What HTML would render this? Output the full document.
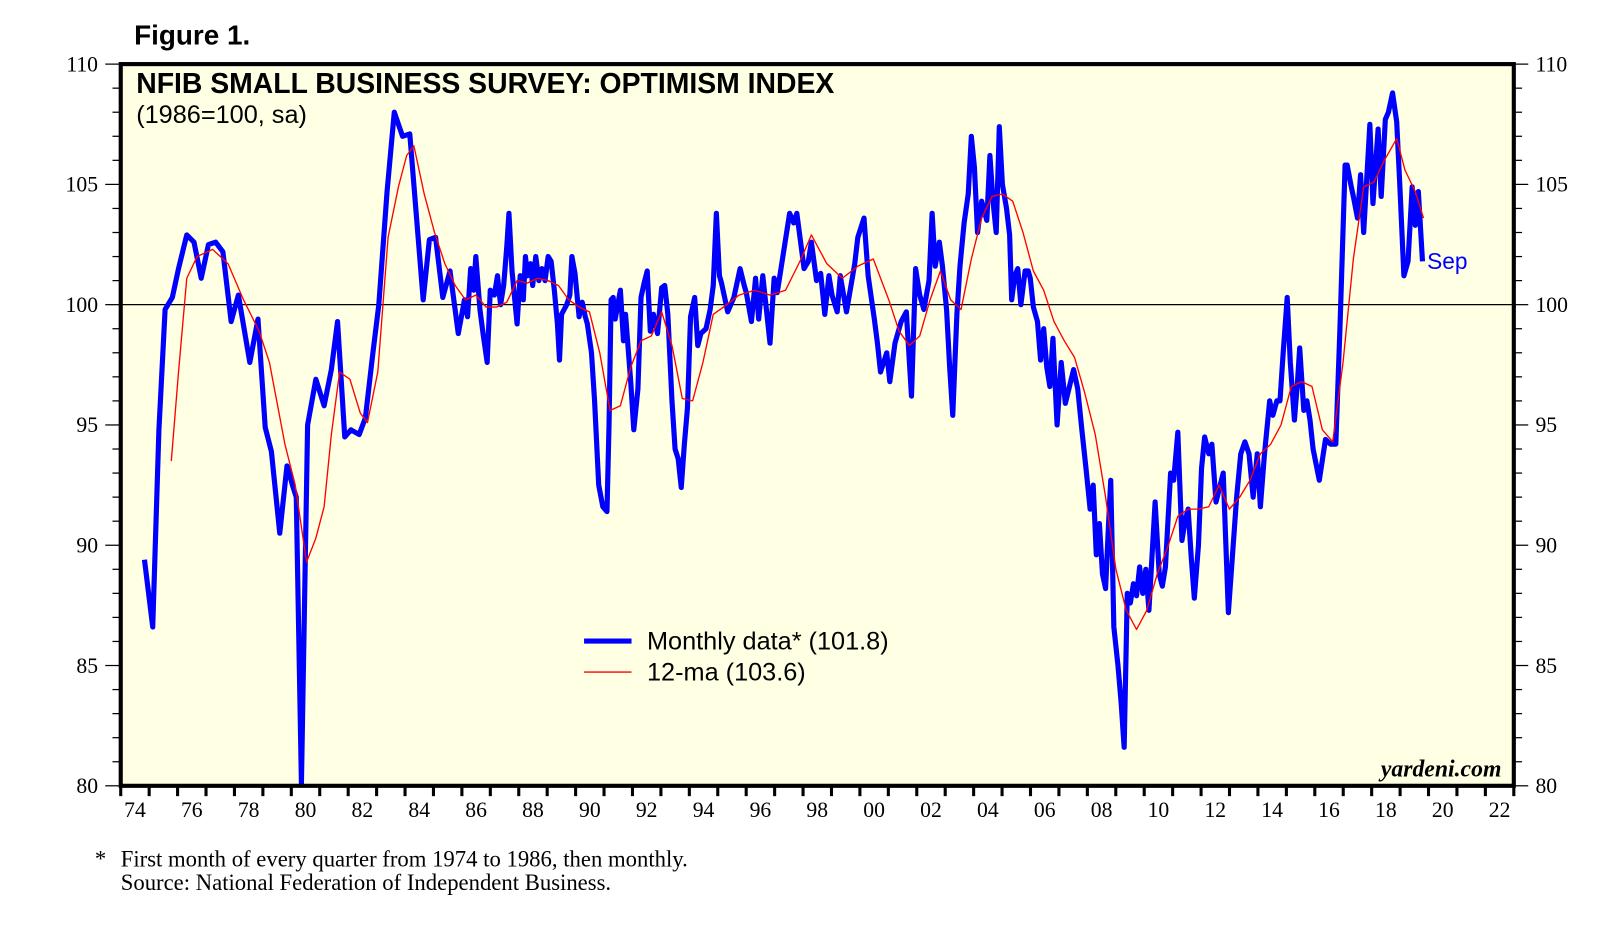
<!DOCTYPE html>
<html><head><meta charset="utf-8"><style>
html,body{margin:0;padding:0;background:#fff;}
svg{display:block;}
.ser{font-family:"Liberation Serif",serif;}
.san{font-family:"Liberation Sans",sans-serif;}
</style></head><body>
<svg id="chart" width="1617" height="944" viewBox="0 0 1567 913" preserveAspectRatio="none" xmlns="http://www.w3.org/2000/svg">
<text class="san" x="130" y="43" font-size="27" font-weight="bold">Figure 1.</text>
<rect x="117" y="62" width="1350" height="698" fill="#ffffe3"/>
<g id="grid"></g>
<g id="series"></g>
<rect x="117" y="62" width="1350" height="698" fill="none" stroke="#000" stroke-width="4"/>
<g id="axes"></g>
<text class="san" x="132" y="90" font-size="27.5" font-weight="bold">NFIB SMALL BUSINESS SURVEY: OPTIMISM INDEX</text>
<text class="san" x="132" y="119" font-size="24.5">(1986=100, sa)</text>
<line x1="566" y1="620" x2="612" y2="620" stroke="#0000ff" stroke-width="5"/>
<text class="san" x="627" y="628" font-size="24.5">Monthly data* (101.8)</text>
<line x1="566" y1="650" x2="612" y2="650" stroke="#ff0000" stroke-width="1.3"/>
<text class="san" x="627" y="658" font-size="24.5">12-ma (103.6)</text>
<text class="san" x="1383" y="260" font-size="22" fill="#0000ff">Sep</text>
<text class="ser" x="1455" y="751" font-size="23" font-weight="bold" font-style="italic" text-anchor="end">yardeni.com</text>
<text class="ser" x="92" y="838" font-size="22">*</text>
<text class="ser" x="117" y="838" font-size="22">First month of every quarter from 1974 to 1986, then monthly.</text>
<text class="ser" x="117" y="861" font-size="22">Source: National Federation of Independent Business.</text>
</svg>
<script>
const BASE_YEAR = 1974;
const yTicks = [80, 85, 90, 95, 100, 105, 110];
const xLabels = ["74","76","78","80","82","84","86","88","90","92","94","96","98","00","02","04","06","08","10","12","14","16","18","20","22"];
const monthlyT = [0.835,1.126,1.343,1.561,1.816,2.033,2.324,2.578,2.832,3.086,3.341,3.595,3.885,4.139,4.539,4.829,5.083,5.301,5.592,5.846,6.064,6.173,6.354,6.572,6.863,7.153,7.407,7.625,7.879,8.097,8.388,8.606,8.860,9.077,9.368,9.622,9.913,10.167,10.639,10.857,11.075,11.329,11.583,11.874,12.091,12.200,12.309,12.418,12.491,12.636,12.745,12.890,12.999,13.144,13.253,13.362,13.471,13.580,13.653,13.762,13.943,14.052,14.161,14.234,14.306,14.415,14.488,14.597,14.706,14.815,14.924,15.033,15.141,15.250,15.359,15.432,15.505,15.686,15.795,15.868,15.977,16.122,16.231,16.340,16.413,16.558,16.667,16.812,16.957,17.102,17.175,17.247,17.320,17.392,17.574,17.683,17.756,17.937,18.046,18.191,18.300,18.409,18.518,18.627,18.736,18.881,19.026,19.135,19.244,19.390,19.499,19.608,19.717,19.826,19.935,20.044,20.189,20.298,20.407,20.588,20.734,20.843,20.951,21.060,21.133,21.351,21.569,21.786,21.932,22.004,22.186,22.331,22.440,22.585,22.730,22.839,22.984,23.093,23.529,23.674,23.783,24.037,24.183,24.292,24.473,24.619,24.764,24.909,25.018,25.200,25.309,25.527,25.817,25.926,26.144,26.289,26.507,26.616,26.725,26.943,27.052,27.233,27.451,27.633,27.814,27.959,28.105,28.250,28.431,28.540,28.649,28.794,28.903,29.049,29.158,29.267,29.412,29.521,29.666,29.811,29.920,30.029,30.138,30.283,30.465,30.574,30.683,30.792,30.901,31.010,31.155,31.264,31.337,31.446,31.554,31.663,31.809,31.918,31.990,32.099,32.244,32.353,32.462,32.571,32.680,32.789,32.934,33.079,33.224,33.370,33.515,33.660,33.805,33.950,34.096,34.205,34.313,34.422,34.531,34.640,34.749,34.822,34.931,35.076,35.185,35.294,35.403,35.512,35.621,35.730,35.839,35.948,36.057,36.166,36.383,36.529,36.638,36.747,36.928,37.037,37.182,37.327,37.436,37.545,37.654,37.763,37.908,38.017,38.126,38.271,38.381,38.526,38.780,38.962,39.070,39.252,39.397,39.542,39.688,39.833,39.978,40.087,40.232,40.414,40.523,40.668,40.777,40.886,41.031,41.140,41.285,41.394,41.467,41.612,41.721,41.830,41.939,42.157,42.375,42.556,42.738,42.883,43.065,43.137,43.283,43.355,43.500,43.609,43.718,43.936,44.045,44.227,44.336,44.481,44.590,44.735,44.881,44.989,45.134,45.280,45.425,45.534,45.643,45.788];
const monthlyValues = [89.4,86.6,94.8,99.8,100.3,101.5,102.9,102.6,101.1,102.5,102.6,102.2,99.3,100.4,97.6,99.4,94.9,93.9,90.5,93.3,92.4,92.0,80.1,95.0,96.9,95.8,97.3,99.3,94.5,94.8,94.6,95.3,97.9,100.0,104.7,108.0,107.0,107.1,100.2,102.7,102.8,100.3,101.4,98.8,100.2,99.5,101.5,100.6,102.0,99.8,98.8,97.6,100.6,100.4,101.2,100.0,100.8,102.4,103.8,101.4,99.2,101.2,100.2,102.0,101.2,101.7,100.8,102.0,101.0,101.5,101.0,102.0,101.8,100.6,99.2,97.7,99.6,100.0,100.4,102.0,101.3,99.5,100.1,99.5,99.2,98.0,96.0,92.5,91.6,91.4,95.0,100.2,100.3,99.4,100.6,98.5,99.6,96.8,94.8,96.5,100.3,100.9,101.4,98.9,99.6,98.8,100.7,100.8,99.6,96.0,94.0,93.6,92.4,94.2,95.7,99.5,100.3,98.3,98.8,99.0,99.8,100.8,103.8,101.2,100.9,99.7,100.3,101.5,100.8,100.5,99.3,101.1,99.4,101.2,99.6,98.4,101.1,100.5,103.8,103.4,103.8,101.5,101.8,102.6,101.0,101.3,99.6,101.2,100.4,99.7,101.2,99.7,101.7,102.8,103.6,101.2,99.4,98.4,97.2,98.0,96.8,98.4,99.3,99.7,96.2,101.5,100.4,99.8,101.0,103.8,101.6,102.6,101.6,99.8,97.4,95.4,99.6,101.6,103.4,104.6,107.0,105.7,103.0,104.3,103.5,106.2,104.3,103.0,107.4,105.0,104.0,102.9,100.2,101.2,101.5,100.0,101.4,101.4,101.1,99.9,99.3,97.7,99.0,97.4,96.6,98.6,95.0,97.6,95.9,96.6,97.3,96.5,94.8,93.2,91.5,92.5,89.6,90.9,88.8,88.2,91.0,92.7,86.6,85.0,83.5,81.6,88.0,87.6,88.4,87.9,89.1,88.0,89.0,87.3,91.8,88.8,88.3,89.1,93.0,92.7,94.7,90.2,91.0,91.5,89.5,87.8,90.0,93.2,94.5,93.8,94.2,91.8,93.0,87.2,89.0,92.0,93.8,94.3,93.8,92.0,93.8,91.6,93.8,96.0,95.4,96.0,96.0,98.0,100.3,97.6,95.2,96.8,98.2,95.6,96.0,95.2,94.0,92.7,94.4,94.2,94.2,99.0,105.8,105.8,104.9,104.5,103.6,105.4,103.0,107.5,104.2,107.3,104.5,107.7,108.0,108.8,107.6,105.0,101.2,101.8,104.9,103.3,104.7,101.8];
const maT = [1.779,2.033,2.324,2.687,3.232,3.776,4.321,4.866,5.229,5.773,6.136,6.536,6.863,7.153,7.407,7.698,8.061,8.424,8.678,9.041,9.405,9.768,10.058,10.312,10.675,11.038,11.401,11.765,12.128,12.491,12.854,13.217,13.580,13.943,14.306,14.669,15.033,15.396,15.759,16.122,16.485,16.848,17.211,17.574,17.937,18.300,18.663,19.026,19.390,19.753,20.116,20.479,20.842,21.205,21.750,22.295,22.840,23.384,23.929,24.292,24.837,25.381,25.926,26.471,27.015,27.378,27.742,28.105,28.468,28.831,29.194,29.557,29.920,30.283,30.646,31.009,31.373,31.736,32.099,32.462,32.825,33.188,33.551,33.914,34.277,34.640,35.004,35.367,35.730,36.093,36.456,36.819,37.182,37.545,37.908,38.271,38.635,38.998,39.361,39.724,40.087,40.450,40.813,41.176,41.539,41.902,42.266,42.629,42.992,43.355,43.718,44.081,44.444,44.880,45.170,45.533,45.824];
const maValues = [93.5,97.2,101.1,102.0,102.3,101.7,100.2,98.9,97.6,94.2,92.5,89.3,90.3,91.6,94.6,97.2,96.9,95.5,95.1,97.2,102.8,104.9,106.2,106.6,104.6,103.0,101.7,100.8,100.2,100.4,99.9,99.9,100.1,101.0,100.9,101.1,101.0,100.8,100.2,99.9,99.7,98.0,95.6,95.8,97.4,98.5,98.7,99.7,98.3,96.1,96.0,97.6,99.6,99.9,100.4,100.6,100.4,100.6,101.9,102.9,101.7,101.1,101.6,101.9,100.2,98.9,98.3,98.7,100.2,101.4,100.2,99.8,101.9,103.6,104.5,104.6,104.3,103.0,101.4,100.6,99.3,98.5,97.8,96.3,94.6,92.0,89.0,87.3,86.5,87.3,88.8,89.9,91.2,91.5,91.5,91.6,92.5,91.5,92.0,92.7,93.8,94.2,95.0,96.6,96.8,96.6,94.8,94.3,97.6,101.9,104.9,105.1,106.0,106.9,105.6,104.7,103.6];

const NS = "http://www.w3.org/2000/svg";
const L = 117, R = 1467, T = 62, B = 760;
const X0 = 0, X1 = 49;
function xScale(t){ return L + (t - X0) / (X1 - X0) * (R - L); }
function yScale(v){ return B - (v - 80) / (110 - 80) * (B - T); }
function mk(tag, attrs, parent){ const e = document.createElementNS(NS, tag); for (const k in attrs) e.setAttribute(k, attrs[k]); parent.appendChild(e); return e; }

const grid = document.getElementById('grid');
const axes = document.getElementById('axes');
const series = document.getElementById('series');

const ref = mk('line', {x1:L, x2:R, y1:yScale(100), y2:yScale(100), stroke:'#000', 'stroke-width':1.2}, grid);



for (let v = 80; v <= 110; v++) {
  const major = v % 5 === 0;
  const y = yScale(v);
  const lt = mk('line', {x1: major ? 102 : 109, x2: L, y1: y, y2: y, stroke:'#000', 'stroke-width':1.2}, axes);
  
  
  const rt = mk('line', {x1: R, x2: major ? 1481 : 1475, y1: y, y2: y, stroke:'#000', 'stroke-width':1.2}, axes);
  
  
}
yTicks.forEach(v => {
  const y = yScale(v);
  const a = mk('text', {x: 95, y: y + 7, 'font-size': 21, 'text-anchor': 'end', class: 'ser'}, axes);
  a.textContent = v;
  
  
  const b = mk('text', {x: 1488, y: y + 7, 'font-size': 21, class: 'ser'}, axes);
  b.textContent = v;
  
  
});
for (let t = 0; t <= 49; t++) {
  const tk = mk('line', {x1: xScale(t), x2: xScale(t), y1: B, y2: B + 10, stroke:'#000', 'stroke-width':3}, axes);
  
  
}
xLabels.forEach((lab, i) => {
  const tx = mk('text', {x: xScale(i * 2 + 0.5), y: 790, 'font-size': 21, 'text-anchor': 'middle', class: 'ser'}, axes);
  tx.textContent = lab;
  
  
});

function path(ts, vs){ return ts.map((t, i) => (i ? 'L' : 'M') + xScale(t).toFixed(1) + ',' + yScale(vs[i]).toFixed(1)).join(''); }
const blue = mk('path', {d: path(monthlyT, monthlyValues), fill:'none', stroke:'#0000ff', 'stroke-width':5, 'stroke-linejoin':'round'}, series);


const red = mk('path', {d: path(maT, maValues), fill:'none', stroke:'#ff0000', 'stroke-width':1.3, 'stroke-linejoin':'round'}, series);


</script>
</body></html>
